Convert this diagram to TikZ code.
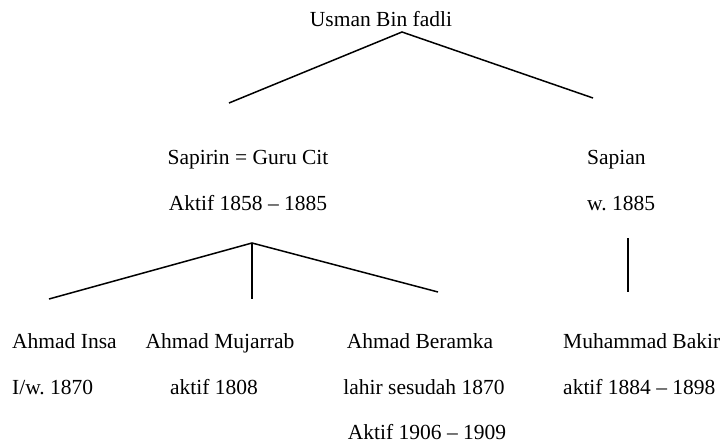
\documentclass[tikz,border=0pt]{standalone}
\usepackage{fontspec}
\setmainfont{Liberation Serif}
\usetikzlibrary{positioning}
\frenchspacing
\newcommand{\entry}[4]{%
 \node[entrytext,anchor=#1] (#2) at (#3) {#4};%
}

\begin{document}
\begin{tikzpicture}[x=1pt,y=-1pt,
   entrytext/.style={font=\fontsize{21.5}{25}\selectfont,inner sep=0pt},
   branch/.style={line width=1.5pt}]
   \useasboundingbox (0,0) rectangle (726,444);
   % generation 1
   \entry{base}{usman}{381,27}{Usman Bin fadli};
   % generation 2
   \entry{base}{sapirin}{248,164}{Sapirin = Guru Cit};
   \entry{base}{sapirinyr}{248,210}{Aktif 1858 -- 1885};
   \entry{base west}{sapian}{587,164}{Sapian};
   \entry{base west}{sapianyr}{587,210}{w. 1885};
   % generation 3
   \entry{base west}{insa}{12,348}{Ahmad Insa};
   \entry{base west}{insayr}{12,394}{I/w. 1870};
   \entry{base}{mujarrab}{220,348}{Ahmad Mujarrab};
   \entry{base}{mujarrabyr}{214,394}{aktif 1808};
   \entry{base}{beramka}{420,348}{Ahmad Beramka};
   \entry{base}{beramkalhr}{424,394}{lahir sesudah 1870};
   \entry{base}{beramkayr}{427,439}{Aktif 1906 -- 1909};
   \entry{base west}{bakir}{563,348}{Muhammad Bakir};
   \entry{base west}{bakiryr}{563,394}{aktif 1884 -- 1898};
   % branch points
   \coordinate (usmanfork) at (402,32);
   \coordinate (usmanL) at (229,103);
   \coordinate (usmanR) at (593,98);
   \coordinate (sapirinfork) at (252,243);
   \coordinate (sapirinL) at (49,299);
   \coordinate (sapirinM) at (252,299);
   \coordinate (sapirinR) at (438,292);
   \coordinate (sapiantop) at (628,238);
   \coordinate (sapianbot) at (628,292);
   \draw[branch] (usmanL) -- (usmanfork) -- (usmanR);
   \draw[branch] (sapirinL) -- (sapirinfork) -- (sapirinR);
   \draw[branch] (sapirinfork) -- (sapirinM);
   \draw[branch] (sapiantop) -- (sapianbot);
\end{tikzpicture}
\end{document}
